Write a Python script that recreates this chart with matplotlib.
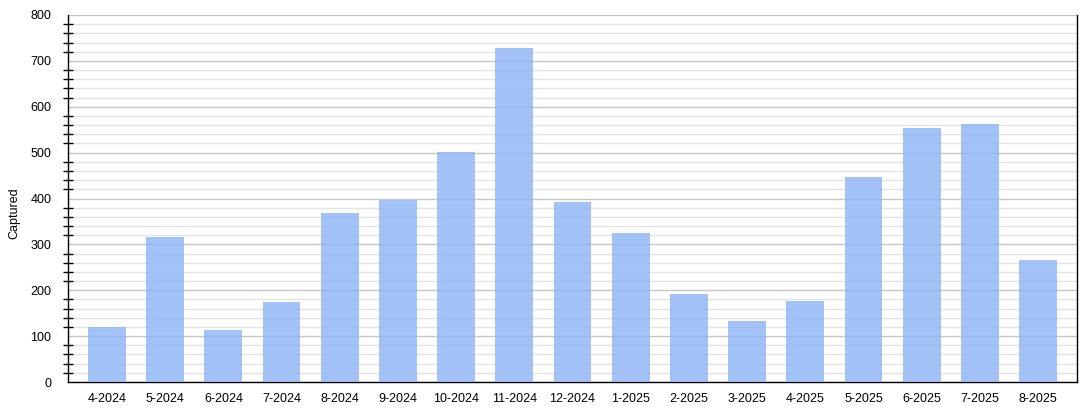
import matplotlib
matplotlib.use("Agg")
import matplotlib.pyplot as plt
from matplotlib.ticker import MultipleLocator

months = ["4-2024", "5-2024", "6-2024", "7-2024", "8-2024", "9-2024", "10-2024", "11-2024",
          "12-2024", "1-2025", "2-2025", "3-2025", "4-2025", "5-2025", "6-2025", "7-2025", "8-2025"]
captured = [120, 316, 113, 174, 368, 397, 501, 728, 392, 325, 192, 133, 176, 447, 553, 562, 266]

plt.rcParams['font.family'] = ['Liberation Sans', 'DejaVu Sans']

fig = plt.figure(figsize=(10.92, 4.12), dpi=100)
ax = fig.add_axes([0.0623, 0.0728, 0.924, 0.8908])

x = list(range(len(months)))
ax.bar(x, captured, width=0.65, color=(0.55, 0.70, 0.96), alpha=0.8, zorder=3)

ax.set_xlim(-0.67, len(months) - 1 + 0.67)
ax.set_ylim(0, 800)
ax.yaxis.set_major_locator(MultipleLocator(100))
ax.yaxis.set_minor_locator(MultipleLocator(20))
ax.grid(axis='y', which='major', color='#c6c6c6', linewidth=1, zorder=1)
ax.grid(axis='y', which='minor', color='#e4e4e4', linewidth=1, zorder=1)
ax.set_axisbelow(True)

ax.set_xticks(x)
ax.set_xticklabels(months, fontsize=9)
ax.tick_params(axis='x', length=0, pad=8)
ax.tick_params(axis='y', which='major', length=0, pad=12, labelsize=9)
ax.tick_params(axis='y', which='minor', direction='inout', length=7, width=1, color='black')

ax.spines['top'].set_visible(False)
for s in ['left', 'bottom', 'right']:
    ax.spines[s].set_color('black')
    ax.spines[s].set_linewidth(1)

ax.set_ylabel("Captured", fontsize=9)
ax.yaxis.set_label_coords(-0.047, 0.46)

fig.savefig("out.png", dpi=100)
